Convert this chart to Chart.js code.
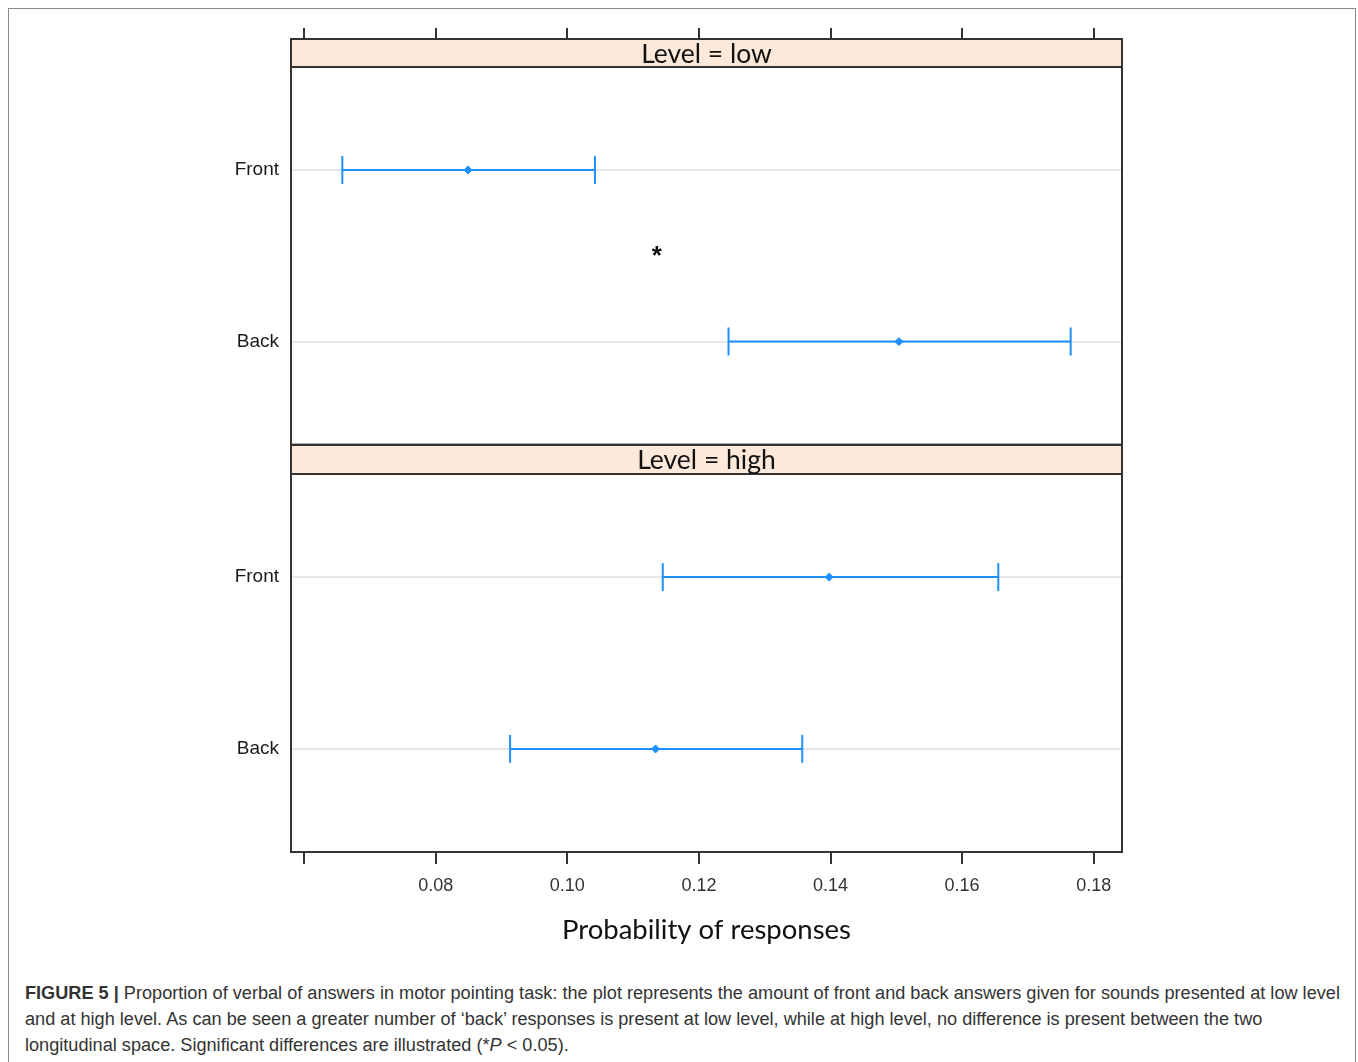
<!DOCTYPE html>
<html>
<head>
<meta charset="utf-8">
<script src="https://cdn.jsdelivr.net/npm/chart.js@4.4.0/dist/chart.umd.min.js"></script>
<style>
    html, body { margin: 0; padding: 0; background: #fff; }
    #page { position: relative; width: 1358px; height: 1062px; overflow: hidden; }
    #frame { position: absolute; left: 8px; top: 8px; width: 1346px; height: 1100px; border: 1.5px solid #8a8a8a; }
    canvas { position: absolute; left: 0; }
    #c1 { top: 0; }
    #c2 { top: 445px; }
    .cap { position: absolute; left: 25px; font-family: "Liberation Sans", Arial, sans-serif; font-size: 18.15px; color: #333; white-space: nowrap; line-height: 26px; }
</style>
</head>
<body>
<div id="page">
    <div id="frame"></div>
    <canvas id="c1" width="1358" height="468"></canvas>
    <canvas id="c2" width="1358" height="507"></canvas>
    <div class="cap" style="top:980px"><b>FIGURE 5 |</b> Proportion of verbal of answers in motor pointing task: the plot represents the amount of front and back answers given for sounds presented at low level</div>
    <div class="cap" style="top:1006px">and at high level. As can be seen a greater number of ‘back’ responses is present at low level, while at high level, no difference is present between the two</div>
    <div class="cap" style="top:1032px">longitudinal space. Significant differences are illustrated (*<i>P</i> &lt; 0.05).</div>
</div>
<script>
// --- datos ---
const rows = ['Front', 'Back'];
const xTicks = [0.06, 0.08, 0.10, 0.12, 0.14, 0.16, 0.18];
const xLabeled = [0.08, 0.10, 0.12, 0.14, 0.16, 0.18];

const lowEst = [0.0849, 0.1504];
const lowLo  = [0.0658, 0.1245];
const lowHi  = [0.1042, 0.1765];

const highEst = [0.1398, 0.1134];
const highLo  = [0.1145, 0.0913];
const highHi  = [0.1655, 0.1357];

// asterisco de significación en el panel "low"
const lowStars = [{ x: 0.1136, y: 1.47, text: '*' }];

const BLUE = '#1E90FF';
const X_MIN = 0.058, X_MAX = 0.1843;

function buildDatasets(est, lo, hi) {
    const ds = [];
    rows.forEach((r, i) => {
        ds.push({
            data: [{ x: lo[i], y: i + 1 }, { x: hi[i], y: i + 1 }],
            showLine: true,
            borderColor: BLUE,
            borderWidth: 2,
            pointStyle: 'line',
            rotation: 90,
            pointRadius: 14,
            pointBorderColor: BLUE,
            pointBorderWidth: 2,
            pointHoverRadius: 14
        });
    });
    ds.push({
        data: est.map((v, i) => ({ x: v, y: i + 1 })),
        showLine: false,
        pointStyle: 'rectRot',
        pointRadius: 4,
        pointBackgroundColor: BLUE,
        pointBorderColor: BLUE,
        pointBorderWidth: 1
    });
    return ds;
}

// tira de título y marco del panel (estilo lattice)
const panelPlugin = {
    id: 'panel',
    afterDraw(chart, args, opts) {
        const { ctx, chartArea: a, scales } = chart;
        const stripH = opts.stripH;
        ctx.save();
        // marco del panel
        ctx.strokeStyle = '#333';
        ctx.lineWidth = 2;
        ctx.strokeRect(a.left, a.top, a.right - a.left, a.bottom - a.top);
        // tira
        ctx.fillStyle = '#FDE9D9';
        ctx.fillRect(a.left, a.top - stripH, a.right - a.left, stripH);
        ctx.strokeRect(a.left, a.top - stripH, a.right - a.left, stripH);
        ctx.fillStyle = '#111';
        ctx.font = '26.5px Lato, "Open Sans", sans-serif';
        ctx.textAlign = 'center';
        ctx.textBaseline = 'middle';
        ctx.fillText(opts.label, (a.left + a.right) / 2, a.top - stripH / 2 + 1);
        // marcas superiores
        if (opts.topTicks) {
            ctx.beginPath();
            xTicks.forEach(v => {
                const px = Math.round(scales.x.getPixelForValue(v));
                ctx.moveTo(px, a.top - stripH);
                ctx.lineTo(px, a.top - stripH - 11);
            });
            ctx.stroke();
        }
        // anotaciones
        (opts.stars || []).forEach(s => {
            ctx.fillStyle = '#111';
            ctx.font = 'bold 26px "Liberation Sans", Arial, sans-serif';
            ctx.fillText(s.text, scales.x.getPixelForValue(s.x), scales.y.getPixelForValue(s.y) + 6);
        });
        ctx.restore();
    }
};

function makeChart(id, est, lo, hi, label, isBottom, stars) {
    return new Chart(document.getElementById(id), {
        type: 'scatter',
        data: { datasets: buildDatasets(est, lo, hi) },
        plugins: [panelPlugin],
        options: {
            responsive: false,
            animation: false,
            layout: { padding: { left: 191, right: 236, top: isBottom ? 29 : 67, bottom: isBottom ? 0 : 23 } },
            plugins: {
                legend: { display: false },
                tooltip: { enabled: false },
                panel: { label, stripH: isBottom ? 29 : 28, topTicks: !isBottom, stars }
            },
            scales: {
                x: {
                    type: 'linear',
                    display: isBottom,
                    min: X_MIN,
                    max: X_MAX,
                    afterBuildTicks: s => { s.ticks = xTicks.map(v => ({ value: v })); },
                    afterFit: s => { if (isBottom) s.height = 100; },
                    grid: { drawOnChartArea: false, drawTicks: true, tickLength: 12, color: '#333', lineWidth: 2 },
                    border: { display: false },
                    ticks: {
                        padding: 11,
                        color: '#333',
                        font: { family: '"Liberation Sans", Arial, sans-serif', size: 18 },
                        callback: v => xLabeled.some(t => Math.abs(t - v) < 1e-9) ? v.toFixed(2) : ''
                    },
                    title: {
                        display: true,
                        text: 'Probability of responses',
                        color: '#111',
                        font: { family: 'Lato, "Open Sans", sans-serif', size: 27.5 },
                        padding: { top: 4, bottom: 5 }
                    }
                },
                y: {
                    type: 'linear',
                    reverse: true,
                    min: 0.4,
                    max: 2.6,
                    afterBuildTicks: s => { s.ticks = rows.map((r, i) => ({ value: i + 1 })); },
                    afterFit: s => { s.width = 100; },
                    grid: { color: '#e6e6e6', lineWidth: 2, drawTicks: false },
                    border: { display: false },
                    ticks: {
                        padding: 12,
                        color: '#1a1a1a',
                        font: { family: '"Liberation Sans", Arial, sans-serif', size: 19 },
                        callback: v => rows[v - 1] || ''
                    }
                }
            }
        }
    });
}

makeChart('c1', lowEst, lowLo, lowHi, 'Level = low', false, lowStars);
makeChart('c2', highEst, highLo, highHi, 'Level = high', true, []);
</script>
</body>
</html>
